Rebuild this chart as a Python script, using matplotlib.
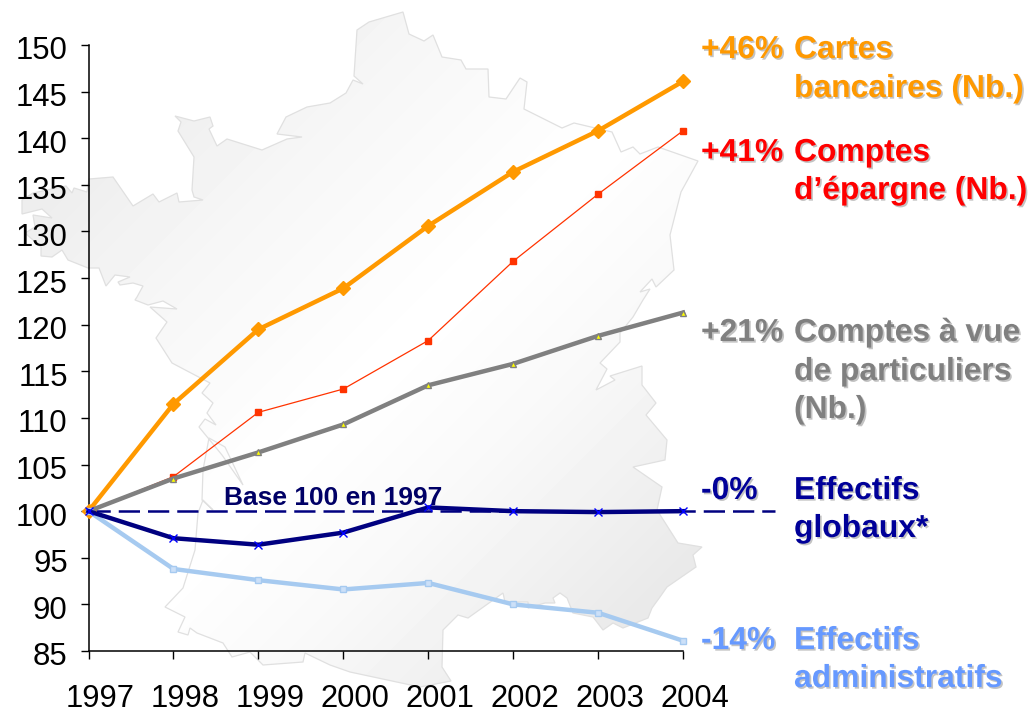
import matplotlib
matplotlib.use('Agg')
import matplotlib.pyplot as plt
import matplotlib.patheffects as pe
from matplotlib.patches import Polygon
from matplotlib.transforms import ScaledTranslation
import numpy as np

plt.rcParams['font.family'] = ['Liberation Sans', 'DejaVu Sans']

years = [1997, 1998, 1999, 2000, 2001, 2002, 2003, 2004]
yticks = list(range(85, 151, 5))

cartes = [100, 111.5, 119.5, 123.9, 130.6, 136.4, 140.8, 146.1]
epargne = [100, 103.7, 110.6, 113.1, 118.3, 126.8, 134.0, 140.8]
comptes_vue = [100, 103.5, 106.3, 109.3, 113.5, 115.8, 118.8, 121.3]
eff_admin = [100, 93.8, 92.6, 91.6, 92.3, 90.0, 89.1, 86.1]
eff_globaux = [100, 97.1, 96.4, 97.7, 100.4, 100.0, 99.9, 100.0]
base_line = [100, 100]
base_x = [1997, 2005.08]

# outline of France behind the chart, in image pixels
france = [
    (22, 214), (22, 200), (33, 193), (66, 186), (72, 193), (74, 188), (87, 192), (89, 179),
    (113, 177), (133, 206), (153, 194), (159, 202), (177, 193), (179, 202), (203, 200),
    (194, 197), (192, 190), (194, 157), (178, 131), (181, 122), (175, 116), (194, 121),
    (210, 117), (213, 126), (209, 129), (217, 146), (227, 139), (262, 150), (287, 139),
    (302, 137), (277, 134), (286, 117), (307, 107), (330, 103), (346, 93), (353, 80),
    (363, 84), (354, 76), (357, 30), (369, 22), (403, 12), (409, 34), (424, 41), (433, 35),
    (442, 57), (461, 60), (466, 69), (488, 69), (489, 97), (506, 99), (520, 78), (527, 82),
    (524, 109), (562, 128), (574, 123), (612, 132), (621, 152), (633, 147), (640, 154),
    (658, 147), (698, 161), (681, 192), (670, 235), (674, 270), (656, 287), (652, 279),
    (640, 292), (650, 289), (643, 300), (633, 317), (620, 333), (620, 342), (600, 363),
    (607, 369), (596, 390), (615, 380), (610, 376), (642, 366), (642, 385), (656, 403),
    (646, 415), (667, 440), (665, 460), (633, 467), (662, 487), (657, 510), (678, 543),
    (702, 547), (693, 555), (696, 567), (667, 587), (660, 597), (652, 608), (648, 618),
    (623, 628), (613, 623), (603, 630), (593, 617), (573, 613), (567, 598), (560, 593),
    (553, 598), (555, 603), (545, 603), (528, 608), (528, 602), (505, 602), (503, 593),
    (468, 618), (458, 615), (443, 630), (442, 667), (451, 681), (420, 687), (350, 672),
    (330, 665), (305, 653), (303, 662), (263, 665), (250, 652), (232, 657), (223, 643),
    (197, 633), (190, 628), (188, 635), (178, 632), (185, 617), (177, 613), (165, 607),
    (183, 588), (195, 550), (198, 513), (203, 500), (213, 510), (202, 500), (203, 470),
    (209, 438), (225, 447), (243, 485), (222, 455), (199, 427), (205, 419), (216, 425),
    (207, 413), (213, 403), (202, 393), (210, 383), (172, 363), (156, 338), (167, 322),
    (150, 307), (177, 309), (163, 301), (148, 305), (135, 300), (137, 297), (143, 286),
    (133, 283), (120, 285), (118, 282), (130, 277), (115, 275), (106, 286), (99, 268),
    (88, 268), (68, 260), (62, 250), (52, 257), (41, 256), (41, 247), (25, 233), (35, 227),
    (33, 215), (52, 218), (42, 209),
]

W, H = 1030, 710
fig = plt.figure(figsize=(W / 100, H / 100), dpi=100)

# background map with diagonal grey gradient
bg = fig.add_axes([0, 0, 1, 1], zorder=0)
bg.set_xlim(0, W)
bg.set_ylim(H, 0)
bg.axis('off')
xx, yy = np.meshgrid(np.arange(W), np.arange(H))
shade = np.interp(xx + yy, [240, 450, 750, 950, 1250], [0.93, 0.965, 1.0, 0.975, 0.915])
im = bg.imshow(shade, cmap='gray', vmin=0, vmax=1, extent=(0, W, H, 0), aspect='auto')
outline = Polygon(france, closed=True, facecolor='none', edgecolor='#e0e0e0', linewidth=0.9)
bg.add_patch(outline)
im.set_clip_path(outline)

left, right, top, bottom = 88.5, 683, 45, 651
ax = fig.add_axes([left / W, 1 - bottom / H, (right - left) / W, (bottom - top) / H], zorder=1)
ax.patch.set_alpha(0)

ax.plot(base_x, base_line, color='#000080', lw=1.8, dashes=(8.5, 3.2), clip_on=False, zorder=2)
ax.plot(years, cartes, color='#FF9900', lw=3.2, marker='D', ms=6.8, mfc='#FF9900', mec='#FF9900',
        clip_on=False, zorder=3)
ax.plot(years, epargne, color='#FF3300', lw=0.9, marker='s', ms=5, mfc='#FF3300', mec='#FF3300',
        clip_on=False, zorder=4)
ax.plot(years, comptes_vue, color='#808080', lw=3.2, marker='^', ms=4.5, mfc='#FFFF00', mec='#808080',
        mew=1, clip_on=False, zorder=5)
ax.plot(years, eff_admin, color='#A6CAF0', lw=3.2, marker='s', ms=4.5, mfc='#CCE0F8', mec='#A6CAF0',
        mew=1, clip_on=False, zorder=6)
ax.plot(years, eff_globaux, color='#000080', lw=3.2, clip_on=False, zorder=7)
ax.plot(years, eff_globaux, ls='none', marker='x', ms=5.5, mec='#0000FF', mew=1, clip_on=False, zorder=8)

ax.set_xlim(1997, 2004)
ax.set_ylim(85, 150)
ax.set_xticks(years)
ax.set_yticks(yticks)
ax.tick_params(axis='y', length=5.5, width=1, labelsize=22.4, pad=9.5)
ax.tick_params(axis='x', length=6, width=1, labelsize=22.2, pad=17.5)
ax.spines['top'].set_visible(False)
ax.spines['right'].set_visible(False)
ax.spines['left'].set_linewidth(1.1)
ax.spines['bottom'].set_linewidth(1.1)

# tick labels sit off their ticks in the original slide
for t in ax.get_xticklabels():
    t.set_transform(t.get_transform() + ScaledTranslation(12 / 100, 0, fig.dpi_scale_trans))
for t in ax.get_yticklabels():
    t.set_transform(t.get_transform() + ScaledTranslation(0, -3 / 100, fig.dpi_scale_trans))


def label(x, y, s, color, size=22.9):
    # x, y are image pixels, y is the text baseline
    fig.text(x / W, 1 - y / H, s, color=color, fontsize=size, fontweight='bold', va='baseline', ha='left',
             zorder=5,
             path_effects=[pe.withSimplePatchShadow(offset=(1.2, -1.2), shadow_rgbFace='#555555', alpha=0.35)])


label(701, 58, '+46%', '#FF9900')
label(794, 58, 'Cartes', '#FF9900')
label(794, 97, 'bancaires (Nb.)', '#FF9900')
label(701, 161, '+41%', '#FF0000')
label(794, 161, 'Comptes', '#FF0000')
label(794, 199, 'd’épargne (Nb.)', '#FF0000')
label(701, 341, '+21%', '#808080')
label(794, 341, 'Comptes à vue', '#808080')
label(794, 380, 'de particuliers', '#808080')
label(794, 418, '(Nb.)', '#808080')
label(701, 499, '-0%', '#000099')
label(794, 499, 'Effectifs', '#000099')
label(794, 537, 'globaux*', '#000099')
label(701, 649, '-14%', '#6699FF')
label(794, 649, 'Effectifs', '#6699FF')
label(794, 687, 'administratifs', '#6699FF')

fig.text(224 / W, 1 - 505 / H, 'Base 100 en 1997', color='#000066', fontsize=19, fontweight='bold',
         va='baseline', ha='left', zorder=5)

fig.savefig('out.png', dpi=100)
